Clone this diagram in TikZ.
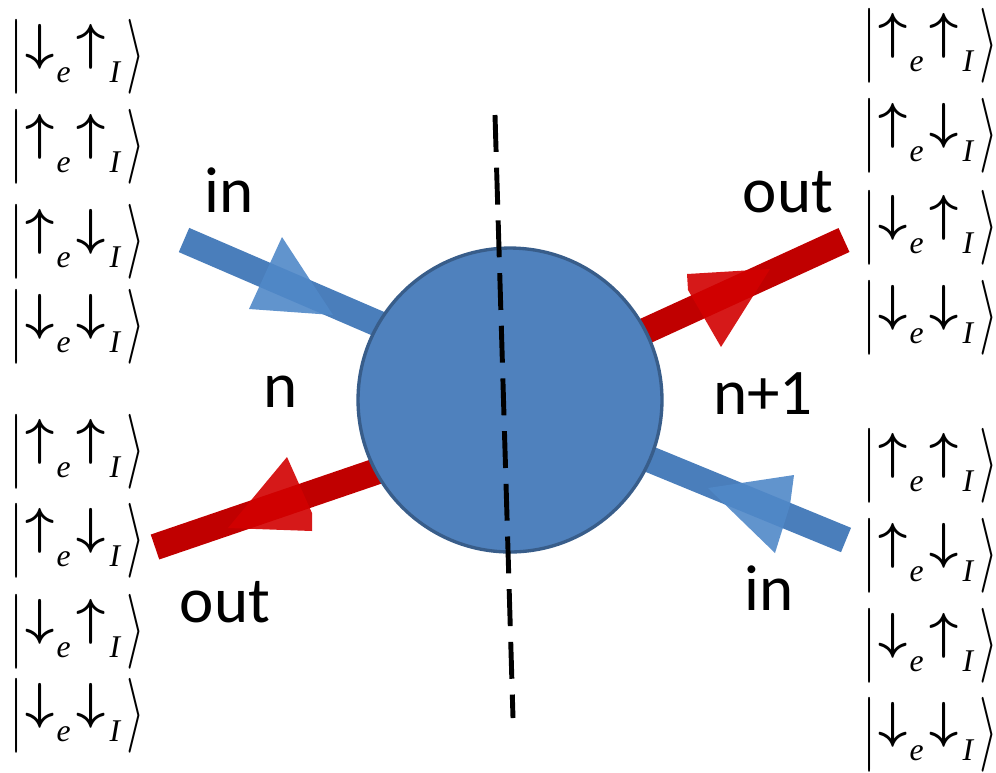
\RequirePackage{fix-cm}
\documentclass[tikz,border=0pt]{standalone}
\usepackage{amsmath}
\usepackage[no-math]{fontspec}
\newfontfamily\calibri{Carlito}
\newfontfamily\timesfont{Liberation Serif}
\usepackage{tikz}
\usetikzlibrary{backgrounds}

\definecolor{beamblue}{HTML}{4A7EBB}
\definecolor{headblue}{HTML}{5088C8}
\definecolor{beamred}{HTML}{C00000}
\definecolor{headred}{HTML}{D20000}
\definecolor{blobfill}{HTML}{4F81BD}
\definecolor{blobedge}{HTML}{385D8A}

% spin state |s_e s_I>
\newcommand{\subfont}{\timesfont\itshape\fontsize{18}{20}\selectfont}
\newcommand{\spinket}[2]{%
  \makebox[0pt]{\raisebox{3.9pt}{\scalebox{1}[1.48]{$\vert$}}}\hspace{13.7pt}%
  \makebox[0pt]{\raisebox{13pt}{$\boldsymbol{#1}$}}\hspace{13.4pt}%
  \makebox[0pt]{\subfont e}\hspace{15.4pt}%
  \makebox[0pt]{\raisebox{13pt}{$\boldsymbol{#2}$}}\hspace{13.7pt}%
  \makebox[0pt]{\subfont I}\hspace{12pt}%
  \makebox[0pt]{\raisebox{3.9pt}{\scalebox{0.95}[1.48]{$\rangle$}}}}

\begin{document}
\begin{tikzpicture}[x=0.02cm, y=-0.02cm,
    ket/.style={inner sep=0pt, font=\fontsize{28.8}{34}\selectfont},
    lbl/.style={anchor=base, inner sep=0pt, font=\calibri\fontsize{37}{40}\selectfont},
    inbeam/.style={beamblue, line width=15pt, shorten >=-14pt},
    outbeam/.style={beamred, line width=15pt, shorten >=-14pt},
    inhead/.style={headblue, fill opacity=0.9},
    outhead/.style={headred, fill opacity=0.9},
    cut/.style={black, line width=2.8pt, dash pattern=on 21pt off 9pt}]
    \useasboundingbox (0,0) rectangle (996,772);
    % scattering region
    \node[circle, draw=blobedge, line width=1.9pt, fill=blobfill, inner sep=0pt, minimum size=6.08cm] (blob) at (510,400) {};
    % free ends of the beams
    \coordinate (inL) at (184,240);
    \coordinate (outL) at (155,547);
    \coordinate (outR) at (844,240);
    \coordinate (inR) at (846,540);
    \begin{scope}[on background layer]
        \draw[inbeam] (inL) -- (blob.150);
        \draw[outbeam] (outL) -- (blob.208);
        \draw[outbeam] (outR) -- (blob.27);
        \draw[inbeam] (inR) -- (blob.-23);
        \fill[inhead] (282,237) -- (249,309) -- (333,315) -- cycle;
        \fill[outhead] (287,457) -- (312,513) -- (312,531) -- (228,528) -- cycle;
        \fill[outhead] (687,274) -- (770,269) -- (721,347) -- (688,290) -- cycle;
        \fill[inhead] (708,488) -- (794,475) -- (790,505) -- (775,553) -- cycle;
    \end{scope}
    % cut through the region
    \coordinate (cutTop) at (495,115);
    \coordinate (cutBot) at (513,718);
    \draw[cut] (cutTop) -- (cutBot);
    % labels
    \node[lbl] (inTL) at (229,212) {in};
    \node[lbl] (outTR) at (788,212) {out};
    \node[lbl] (nL) at (281,407) {n};
    \node[lbl] (nR) at (763,414) {n+1};
    \node[lbl] (outBL) at (225,622) {out};
    \node[lbl] (inBR) at (769,610) {in};
    % states on the left
    \node[ket] (kL1) at (76,57) {\spinket{\downarrow}{\uparrow}};
    \node[ket] (kL2) at (76,147) {\spinket{\uparrow}{\uparrow}};
    \node[ket] (kL3) at (76,242) {\spinket{\uparrow}{\downarrow}};
    \node[ket] (kL4) at (76,327) {\spinket{\downarrow}{\downarrow}};
    \node[ket] (kL5) at (76,452) {\spinket{\uparrow}{\uparrow}};
    \node[ket] (kL6) at (76,541) {\spinket{\uparrow}{\downarrow}};
    \node[ket] (kL7) at (76,632) {\spinket{\downarrow}{\uparrow}};
    \node[ket] (kL8) at (76,716) {\spinket{\downarrow}{\downarrow}};
    % states on the right
    \node[ket] (kR1) at (929,46) {\spinket{\uparrow}{\uparrow}};
    \node[ket] (kR2) at (929,136) {\spinket{\uparrow}{\downarrow}};
    \node[ket] (kR3) at (929,228) {\spinket{\downarrow}{\uparrow}};
    \node[ket] (kR4) at (929,318) {\spinket{\downarrow}{\downarrow}};
    \node[ket] (kR5) at (929,466) {\spinket{\uparrow}{\uparrow}};
    \node[ket] (kR6) at (929,556) {\spinket{\uparrow}{\downarrow}};
    \node[ket] (kR7) at (929,646) {\spinket{\downarrow}{\uparrow}};
    \node[ket] (kR8) at (929,735) {\spinket{\downarrow}{\downarrow}};
\end{tikzpicture}
\end{document}
